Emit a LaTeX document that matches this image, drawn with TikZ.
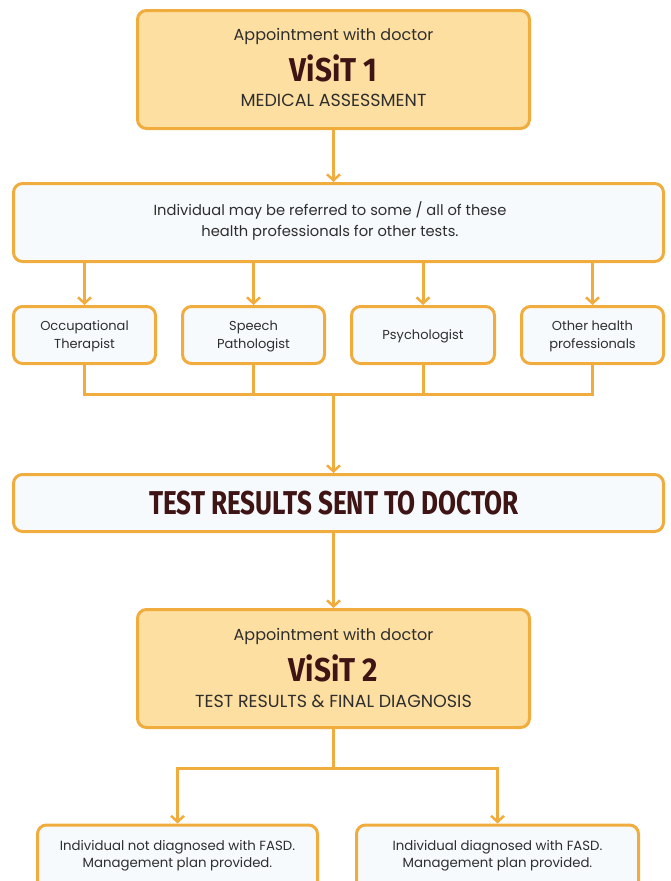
\documentclass[tikz,border=0pt]{standalone}
\usepackage{fontspec}
\setmainfont{Poppins}
\newfontfamily\titlefont{Fira Sans}
\usetikzlibrary{arrows.meta}
\definecolor{edgeor}{HTML}{F0AD3E}
\definecolor{fillor}{HTML}{FDDFA1}
\definecolor{fillbl}{HTML}{F7FAFD}
\definecolor{txtdark}{HTML}{2E2E2E}
\definecolor{titlebr}{HTML}{3E1414}
\tikzset{
  boxbase/.style={draw=edgeor, line width=3pt, rounded corners=9pt, inner sep=0pt},
  orbox/.style={boxbase, fill=fillor},
  blbox/.style={boxbase, fill=fillbl},
  conn/.style={draw=edgeor, line width=3pt},
  arr/.style={conn, -{Straight Barb[length=6pt,width=13pt,line width=2.5pt]}},
  bodytxt/.style={text=txtdark, font=\fontsize{13}{18}\selectfont, align=center, inner sep=0pt},
  subtxt/.style={text=txtdark, font=\fontsize{16}{19}\selectfont, inner sep=0pt},
  captxt/.style={text=txtdark, font=\fontsize{17.5}{20}\selectfont, inner sep=0pt},
  titletxt/.style={text=titlebr, font=\titlefont\bfseries\fontsize{33}{36}\selectfont, inner sep=0pt},
}
\begin{document}
\begin{tikzpicture}[x=1pt,y=-1pt]
\useasboundingbox (0,0) rectangle (671,881);
% Visit 1
\node[orbox, minimum width=392pt, minimum height=118pt] (v1) at (333.5,69.5) {};
\node[subtxt] (v1a) at (333.5,36) {Appointment with doctor};
\node[titletxt] (v1b) at (333.5,68) {\scalebox{0.9}[1]{ViSiT 1}};
\node[captxt] (v1c) at (333.5,100) {MEDICAL ASSESSMENT};
% referral box
\node[blbox, minimum width=650pt, minimum height=78pt] (ref) at (338.5,222.5) {};
\node[bodytxt, font=\fontsize{14.7}{21}\selectfont] (reft) at (330,221) {Individual may be referred to some / all of these\\health professionals for other tests.};
% professionals
\node[blbox, minimum width=142pt, minimum height=57pt] (p1) at (84.5,335) {};
\node[blbox, minimum width=142pt, minimum height=57pt] (p2) at (253.5,335) {};
\node[blbox, minimum width=143pt, minimum height=57pt] (p3) at (423,335) {};
\node[blbox, minimum width=142pt, minimum height=57pt] (p4) at (592.5,335) {};
\node[bodytxt] (p1t) at (84.5,336) {Occupational\\Therapist};
\node[bodytxt] (p2t) at (253.5,336) {Speech\\Pathologist};
\node[bodytxt] (p3t) at (423,336) {Psychologist};
\node[bodytxt] (p4t) at (592.5,336) {Other health\\professionals};
% test results
\node[blbox, minimum width=650pt, minimum height=57pt] (tr) at (338.5,503) {};
\node[titletxt] (trt) at (334,503) {\scalebox{0.79}[1]{TEST RESULTS SENT TO DOCTOR}};
% Visit 2
\node[orbox, minimum width=392pt, minimum height=118pt] (v2) at (333.5,668.5) {};
\node[subtxt] (v2a) at (333.5,636) {Appointment with doctor};
\node[titletxt] (v2b) at (333.5,668) {\scalebox{0.9}[1]{ViSiT 2}};
\node[captxt] (v2c) at (333.5,701) {TEST RESULTS \& FINAL DIAGNOSIS};
% outcomes
\node[blbox, minimum width=280pt, minimum height=80pt, anchor=north] (o1) at (177.5,823.5) {};
\node[blbox, minimum width=282pt, minimum height=80pt, anchor=north] (o2) at (497.5,823.5) {};
\node[bodytxt, font=\fontsize{13.3}{17}\selectfont] (o1t) at (177.5,856) {Individual not diagnosed with FASD.\\Management plan provided.};
\node[bodytxt, font=\fontsize{13.3}{17}\selectfont] (o2t) at (497.5,856) {Individual diagnosed with FASD.\\Management plan provided.};
% coordinates
\coordinate (j1) at (333.5,394);
\coordinate (j2) at (333.5,768);
% connectors
\draw[arr] (v1.south) -- (v1.south |- ref.north);
\foreach \p in {p1,p2,p3,p4} {
  \draw[arr] (ref.south -| \p.north) -- (\p.north);
}
\draw[conn, line join=miter] (p1.south) |- (j1) -| (p4.south);
\draw[conn] (p2.south) -- (p2.south |- j1);
\draw[conn] (p3.south) -- (p3.south |- j1);
\draw[arr] (j1) -- (j1 |- tr.north);
\draw[arr] (tr.south -| v2.north) -- (v2.north);
\draw[conn] (v2.south) -- (j2);
\draw[arr] (j2) -| (o1.north);
\draw[arr] (j2) -| (o2.north);
\end{tikzpicture}
\end{document}
